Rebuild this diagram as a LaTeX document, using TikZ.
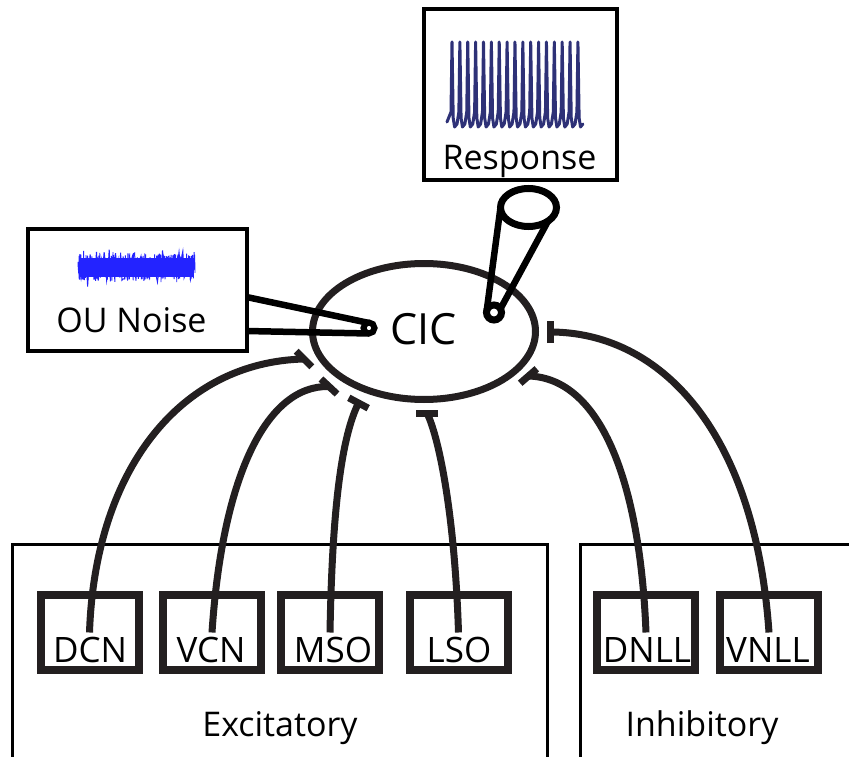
\documentclass[tikz,border=0pt]{standalone}
\usepackage{fontspec}
\setmainfont{Open Sans}
\usetikzlibrary{calc,shapes.geometric}
\definecolor{ink}{HTML}{231F20}
\definecolor{navy}{HTML}{2E3177}
\definecolor{noiseblue}{HTML}{2323FF}
\begin{document}
\begin{tikzpicture}[x=1pt,y=-1pt,
  smallbox/.style={draw=ink, line width=8pt, minimum width=98pt, minimum height=75pt, inner sep=0pt, outer sep=0pt},
  boxlbl/.style={anchor=base, inner sep=0pt, font=\fontsize{35}{40}\selectfont},
  midlbl/.style={anchor=base, inner sep=0pt, font=\fontsize{34}{40}\selectfont},
  conn/.style={draw=ink, line width=7pt},
  teebar/.style={draw=ink, line width=7pt},
  grouprule/.style={draw=black, line width=3pt},
  panel/.style={draw=black, line width=4pt, fill=white, inner sep=0pt, outer sep=0pt},
  probe/.style={draw=black, line width=6.5pt},
  probering/.style={circle, draw=black, inner sep=0pt, outer sep=0pt}
]
\useasboundingbox (0,0) rectangle (849,757);
\fill[white] (0,0) rectangle (849,757);

% group frames
\draw[grouprule] (12.5,760) -- (12.5,544.5) -- (547.5,544.5) -- (547.5,760);
\draw[grouprule] (580,760) -- (580,544.5) -- (852,544.5);
\node[midlbl] (exl) at (280,736) {Excitatory};
\node[midlbl] (inl) at (702,736) {Inhibitory};

% source boxes
\node[smallbox] (dcn)  at (89.5,632.5) {};
\node[smallbox] (vcn)  at (212,632.5) {};
\node[smallbox] (mso)  at (330,632.5) {};
\node[smallbox] (lso)  at (458.5,632.5) {};
\node[smallbox] (dnll) at (646,632.5) {};
\node[smallbox] (vnll) at (769,632.5) {};
\node[boxlbl] (dcnl)  at (90,662) {DCN};
\node[boxlbl] (vcnl)  at (211,662) {VCN};
\node[boxlbl] (msol)  at (333,662) {MSO};
\node[boxlbl] (lsol)  at (459,662) {LSO};
\node[boxlbl] (dnlll) at (647,662) {DNLL};
\node[boxlbl] (vnlll) at (768,662) {VNLL};

% CIC
\node[ellipse, draw=ink, line width=7pt, minimum width=223pt, minimum height=136pt, inner sep=0pt] (cic) at (424,331.5) {};
\node[anchor=base, inner sep=0pt, font=\fontsize{43}{48}\selectfont] (cicl) at (423.5,344) {CIC};

% tee points
\coordinate (t1) at (304,359);
\coordinate (t2) at (329,386.5);
\coordinate (t3) at (358.5,403);
\coordinate (t4) at (427,413);
\coordinate (t5) at (528.5,376);
\coordinate (t6) at (550,332);

\draw[conn] (dcn.center) .. controls (95,470) and (180,362) .. (t1);
\draw[conn] (vcn.center) .. controls (222,480) and (265,385) .. (t2);
\draw[conn] (mso.center) .. controls (332,520) and (340,440) .. (t3);
\draw[conn] (lso.center) .. controls (455,520) and (440,440) .. (t4);
\draw[conn] (dnll.center) .. controls (640,480) and (600,378) .. (t5);
\draw[conn] (vnll.center) .. controls (755,430) and (660,332) .. (t6);

\draw[teebar] ($(t1)+(45:11)$) -- ($(t1)+(225:11)$);
\draw[teebar] ($(t2)+(43:11)$) -- ($(t2)+(223:11)$);
\draw[teebar] ($(t3)+(28:11)$) -- ($(t3)+(208:11)$);
\draw[teebar] ($(t4)+(0:11)$) -- ($(t4)+(180:11)$);
\draw[teebar] ($(t5)+(-41:11)$) -- ($(t5)+(139:11)$);
\draw[teebar] ($(t6)+(90:11)$) -- ($(t6)+(270:11)$);

% OU noise panel
\node[panel, minimum width=219pt, minimum height=122pt] (ou) at (137,289.5) {};
\pgfmathsetseed{7}
\fill[noiseblue] (79,258) rectangle (194,277);
\draw[noiseblue, line width=0.9pt, line join=bevel]
  plot[domain=78:195, samples=700] (\x,{267+(11+6*rnd*rnd+2*sin(\x*23))*rand});
\draw[noiseblue, line width=1pt]
  plot[domain=80:193, samples=90] (\x,{267+(14+9*rnd*rnd*rnd)*rand});
\node[midlbl] (oul) at (131.5,332) {OU Noise};

\node[probering, line width=6pt, minimum size=11pt] (nprobe) at (369,328) {};
\draw[probe] ([yshift=-7.5pt]ou.east) -- (nprobe.105);
\draw[probe] ([yshift=-41.5pt]ou.east) -- (nprobe.270);

% Response panel
\node[panel, minimum width=193pt, minimum height=171.5pt] (resp) at (520.5,94.75) {};
\draw[navy, line width=3pt, line join=round, line cap=round] (447,122)
  \foreach \i [evaluate=\i as \s using 452+7.87*\i] in {0,...,16} {
    -- ({\s-1},112) -- (\s,42) -- ({\s+1.2},118) -- ({\s+2.6},127) -- ({\s+5},124)
  };
\node[midlbl] (respl) at (519.5,170) {Response};

\node[ellipse, draw=black, line width=7pt, minimum width=56pt, minimum height=38pt, inner sep=0pt, outer sep=0pt] (cone) at (528.5,207.5) {};
\node[probering, line width=7pt, minimum size=15pt] (rprobe) at (494,312.5) {};
\draw[probe] (cone.180) -- (rprobe.175);
\draw[probe] (cone.-35) -- (rprobe.30);
\end{tikzpicture}
\end{document}
